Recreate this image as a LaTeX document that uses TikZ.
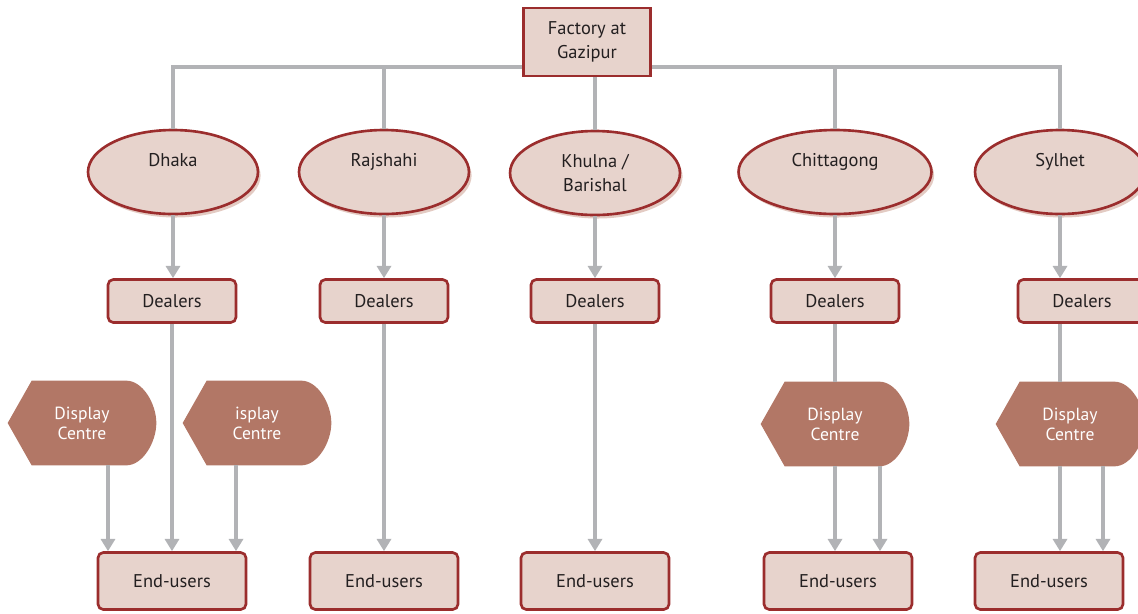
\documentclass[tikz,border=0pt]{standalone}
\usepackage{fontspec}
\setmainfont{PT Sans}
\usetikzlibrary{arrows.meta,shapes.geometric,shadows,backgrounds}
\definecolor{boxfill}{HTML}{E7D3CC}
\definecolor{boxline}{HTML}{9B2D2D}
\definecolor{dcfill}{HTML}{B27766}
\definecolor{linegray}{HTML}{B2B3B6}
\definecolor{txtdark}{HTML}{231F20}
\definecolor{ellshade}{HTML}{E3CBC3}
\tikzset{
  conn/.style={linegray,line width=2pt},
  arr/.style={conn,-{Triangle[width=8pt,length=7pt]}},
  topbox/.style={rectangle,draw=boxline,fill=boxfill,line width=1.5pt,minimum width=2.54cm,minimum height=1.36cm,align=center,text=txtdark},
  cityell/.style={ellipse,draw=boxline,fill=boxfill,line width=1.5pt,minimum width=3.4cm,minimum height=1.68cm,inner sep=1pt,align=center,text=txtdark,
    drop shadow={shadow xshift=1.5pt,shadow yshift=-2pt,fill=ellshade,opacity=1}},
  dealerbox/.style={rectangle,rounded corners=3pt,draw=boxline,fill=boxfill,line width=1.5pt,minimum width=2.56cm,minimum height=0.86cm,text=txtdark},
  userbox/.style={dealerbox,minimum width=2.96cm,minimum height=1.14cm},
  dcbox/.style={rectangle,minimum width=2.96cm,minimum height=1.68cm,inner sep=0pt,align=center,text=white,
    font=\fontsize{10}{11.5}\selectfont},
}
% display centre: pointed left end, rounded right end
\newcommand{\dispctr}[3]{%
  \node[dcbox] (#1) at (#2) {#3};
  \begin{scope}[on background layer]
    \fill[dcfill] (#1.west) -- ([xshift=0.48cm]#1.north west) -- ([xshift=-0.6cm]#1.north east)
      .. controls ([xshift=-0.27cm]#1.north east) and ([yshift=0.38cm]#1.east) .. (#1.east)
      .. controls ([yshift=-0.38cm]#1.east) and ([xshift=-0.27cm]#1.south east) .. ([xshift=-0.6cm]#1.south east)
      -- ([xshift=0.48cm]#1.south west) -- cycle;
  \end{scope}}

\begin{document}
\begin{tikzpicture}[x=0.02cm,y=-0.02cm,font=\fontsize{10.5}{13.5}\selectfont]
  \useasboundingbox (0,0) rectangle (1138,613);
  % factory
  \node[topbox] (fac) at (587,42) {Factory at\\Gazipur};
  % divisions
  \node[cityell] (dhaka) at (173,172) {Dhaka\\\mbox{}};
  \node[cityell] (rajshahi) at (384,172) {Rajshahi\\\mbox{}};
  \node[cityell] (khulna) at (595,173) {Khulna /\\Barishal};
  \node[cityell,minimum width=3.86cm] (chitta) at (835,172) {Chittagong\\\mbox{}};
  \node[cityell] (sylhet) at (1060,172) {Sylhet\\\mbox{}};
  % dealers
  \node[dealerbox] (dlr1) at (172,301) {Dealers};
  \node[dealerbox] (dlr2) at (384,301) {Dealers};
  \node[dealerbox] (dlr3) at (595,301) {Dealers};
  \node[dealerbox] (dlr4) at (835,301) {Dealers};
  \node[dealerbox] (dlr5) at (1082,301) {Dealers};
  % display centres
  \dispctr{dc1}{82,423}{Display\\Centre}
  \dispctr{dc2}{257,423}{isplay\\Centre}
  \dispctr{dc4}{835,424}{Display\\Centre}
  \dispctr{dc5}{1070,424}{Display\\Centre}
  % end users
  \node[userbox] (eu1) at (172,581) {End-users};
  \node[userbox] (eu2) at (384,581) {End-users};
  \node[userbox] (eu3) at (595,581) {End-users};
  \node[userbox] (eu4) at (838,581) {End-users};
  \node[userbox] (eu5) at (1049,581) {End-users};

  % bus from the factory
  \coordinate (bus) at (587,67);
  \draw[conn] (fac.west |- bus) -- (dhaka.north |- bus) -- (dhaka.north);
  \draw[conn] (fac.east |- bus) -- (sylhet.north |- bus) -- (sylhet.north);
  \draw[conn] (rajshahi.north |- bus) -- (rajshahi.north);
  \draw[conn] (chitta.north |- bus) -- (chitta.north);
  \draw[conn] (fac.south -| khulna.north) -- (khulna.north);
  % divisions to dealers
  \draw[arr] (dhaka.south) -- (dhaka.south |- dlr1.north);
  \draw[arr] (rajshahi.south) -- (dlr2.north);
  \draw[arr] (khulna.south) -- (dlr3.north);
  \draw[arr] (chitta.south) -- (dlr4.north);
  \draw[arr] (sylhet.south) -- (sylhet.south |- dlr5.north);
  % dealers to end users
  \draw[arr] (dlr1.south) -- (eu1.north);
  \draw[arr] (dlr2.south) -- (eu2.north);
  \draw[arr] (dlr3.south) -- (eu3.north);
  \draw[conn] (dlr4.south) -- (dc4.north);
  \draw[conn] (dlr5.south -| sylhet.south) -- (dc5.north -| sylhet.south);
  % display centres to end users
  \coordinate (d1) at ([xshift=0.52cm]dc1.south);
  \coordinate (d2) at ([xshift=-0.42cm]dc2.south);
  \coordinate (d4a) at (dc4.south);
  \coordinate (d4b) at ([xshift=0.9cm]dc4.south);
  \coordinate (d5a) at (dc5.south -| sylhet.south);
  \coordinate (d5b) at ([xshift=0.66cm]dc5.south);
  \draw[arr] (d1) -- (d1 |- eu1.north);
  \draw[arr] (d2) -- (d2 |- eu1.north);
  \draw[arr] (d4a) -- (d4a |- eu4.north);
  \draw[arr] (d4b) -- (d4b |- eu4.north);
  \draw[arr] (d5a) -- (d5a |- eu5.north);
  \draw[arr] (d5b) -- (d5b |- eu5.north);
\end{tikzpicture}
\end{document}
